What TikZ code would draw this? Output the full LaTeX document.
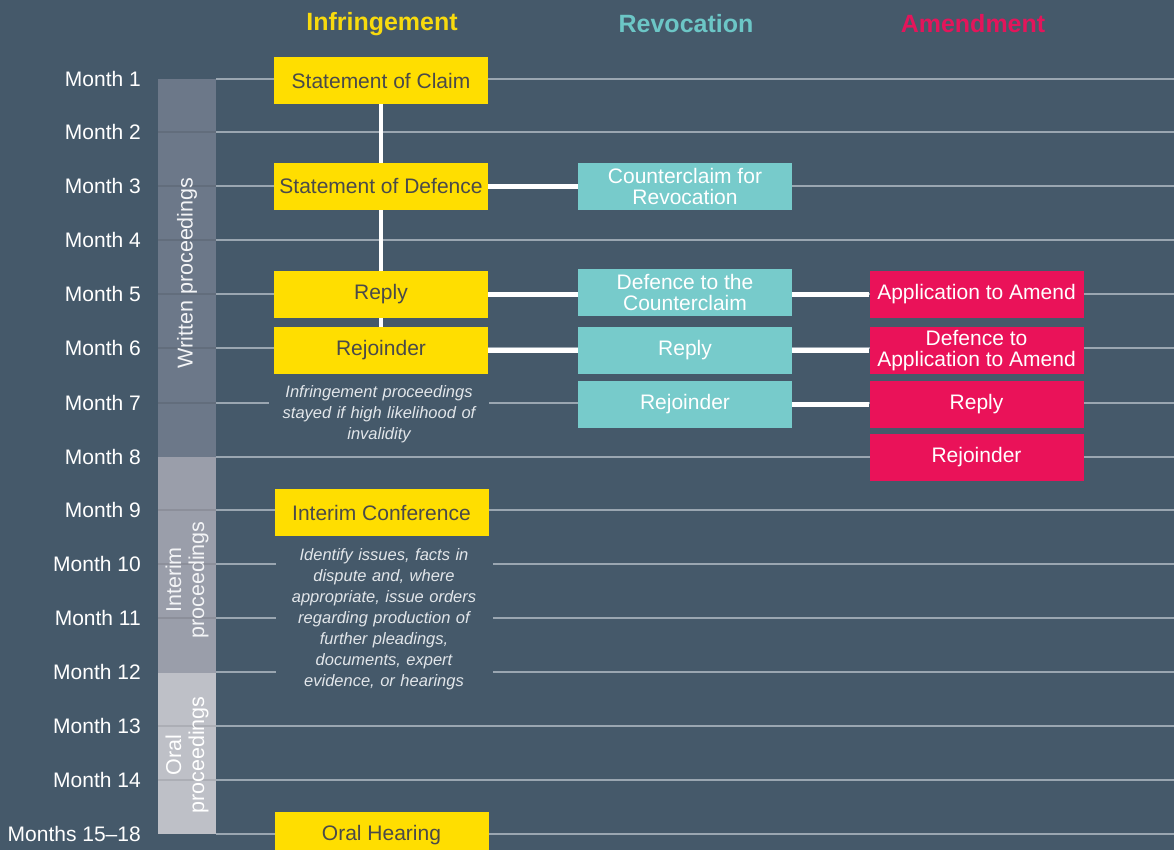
\documentclass[tikz,border=0pt]{standalone}
\usepackage{fontspec}
\setmainfont{Liberation Sans}
\definecolor{cBg}{HTML}{45596A}
\definecolor{cGrid}{HTML}{9AA6B1}
\definecolor{cWritten}{HTML}{6C7889}
\definecolor{cInterim}{HTML}{9A9EAA}
\definecolor{cOral}{HTML}{BEC0C7}
\definecolor{cYel}{HTML}{FFDE00}
\definecolor{cTeal}{HTML}{77CBCB}
\definecolor{cPink}{HTML}{EA1259}
\definecolor{cDark}{HTML}{4A4A4A}
\definecolor{cNote}{HTML}{E2E6EA}
\definecolor{hYel}{HTML}{F8DA0E}
\definecolor{hTeal}{HTML}{6CC6C6}
\definecolor{hPink}{HTML}{E3155B}
\begin{document}
\begin{tikzpicture}[x=1pt,y=-1pt,
  box/.style={minimum width=214pt, minimum height=47pt, inner sep=0pt, align=center,
    font=\fontsize{21}{21}\selectfont},
  ybox/.style={box, fill=cYel, text=cDark},
  tbox/.style={box, fill=cTeal, text=white},
  pbox/.style={box, fill=cPink, text=white},
  month/.style={anchor=east, text=white, inner sep=0pt, font=\fontsize{21}{22}\selectfont},
  head/.style={font=\fontsize{25}{26}\selectfont\bfseries},
  note/.style={fill=cBg, align=center, text=cNote, inner sep=0pt,
    font=\fontsize{16.5}{21}\selectfont\itshape},
  barlabel/.style={rotate=90, align=center, text=white!92!cWritten, inner sep=0pt,
    font=\fontsize{21.5}{23}\selectfont},
  link/.style={draw=white, line width=5pt},
  vlink/.style={draw=white, line width=4pt},
  gridline/.style={draw=cGrid, line width=1.3pt},
  faint/.style={draw=black, draw opacity=0.09, line width=1.3pt}]
\useasboundingbox (0,0) rectangle (1174,850);
\clip (0,0) rectangle (1174,850);
\fill[cBg] (0,0) rectangle (1174,850);

% grid lines and month labels
\foreach \i/\y/\t in {1/79/Month 1,2/132/Month 2,3/186/Month 3,4/240/Month 4,5/294/Month 5,
  6/348/Month 6,7/403/Month 7,8/457/Month 8,9/510/Month 9,10/564/Month 10,11/618/Month 11,
  12/672/Month 12,13/726/Month 13,14/780/Month 14,15/834/Months 15--18}{
  \draw[gridline] (216,\y) -- (1174,\y);
  \node[month] (m\i) at (141,\y) {\t};
}

% phase bars
\fill[cWritten] (158,79) rectangle (216,457);
\fill[cInterim] (158,457) rectangle (216,673);
\fill[cOral] (158,673) rectangle (216,834);
\foreach \y in {132,186,240,294,348,403,510,564,618,726,780}{
  \draw[faint] (158,\y) -- (216,\y);
}
\node[barlabel] (wp) at (187,273) {Written proceedings};
\node[barlabel] (ip) at (187,580) {Interim\\proceedings};
\node[barlabel, text=white] (op) at (187,755) {Oral\\proceedings};

% headers
\node[head, text=hYel] (hI) at (382,24) {Infringement};
\node[head, text=hTeal] (hR) at (686,24) {Revocation};
\node[head, text=hPink] (hA) at (973,24) {Amendment};

% boxes
\node[ybox] (soc) at (381,80.5) {Statement of Claim};
\node[ybox] (sod) at (381,186.5) {Statement of Defence};
\node[ybox] (yrep) at (381,294.5) {Reply};
\node[ybox] (yrej) at (381,350.5) {Rejoinder};
\node[ybox] (ic) at (381.5,512.5) {Interim Conference};
\node[ybox] (oh) at (381.5,835.5) {Oral Hearing};

\node[tbox] (cfr) at (685,186.5) {Counterclaim for\\Revocation};
\node[tbox] (dtc) at (685,292.5) {Defence to the\\Counterclaim};
\node[tbox] (trep) at (685,350.5) {Reply};
\node[tbox] (trej) at (685,404.5) {Rejoinder};

\node[pbox] (ata) at (976.5,294.5) {Application to Amend};
\node[pbox] (dta) at (976.5,350.5) {Defence to\\Application to Amend};
\node[pbox] (prep) at (976.5,404.5) {Reply};
\node[pbox] (prej) at (976.5,457.5) {Rejoinder};

% connectors
\draw[vlink] (soc.south) -- (sod.north);
\draw[vlink] (sod.south) -- (yrep.north);
\draw[vlink] (yrep.south) -- (yrej.north);
\draw[link] (sod.east) -- (cfr.west);
\draw[link] (yrep.east) -- (yrep.east -| dtc.west);
\draw[link] (dtc.east |- ata.west) -- (ata.west);
\draw[link] (yrej.east) -- (trep.west);
\draw[link] (trep.east) -- (dta.west);
\draw[link] (trej.east) -- (prep.west);

% notes
\node[note, text width=220pt] (n1) at (379,414) {Infringement proceedings\\stayed if high likelihood of\\invalidity};
\node[note, text width=217pt] (n2) at (384,619) {Identify issues, facts in\\dispute and, where\\appropriate, issue orders\\regarding production of\\further pleadings,\\documents, expert\\evidence, or hearings};
\end{tikzpicture}
\end{document}
